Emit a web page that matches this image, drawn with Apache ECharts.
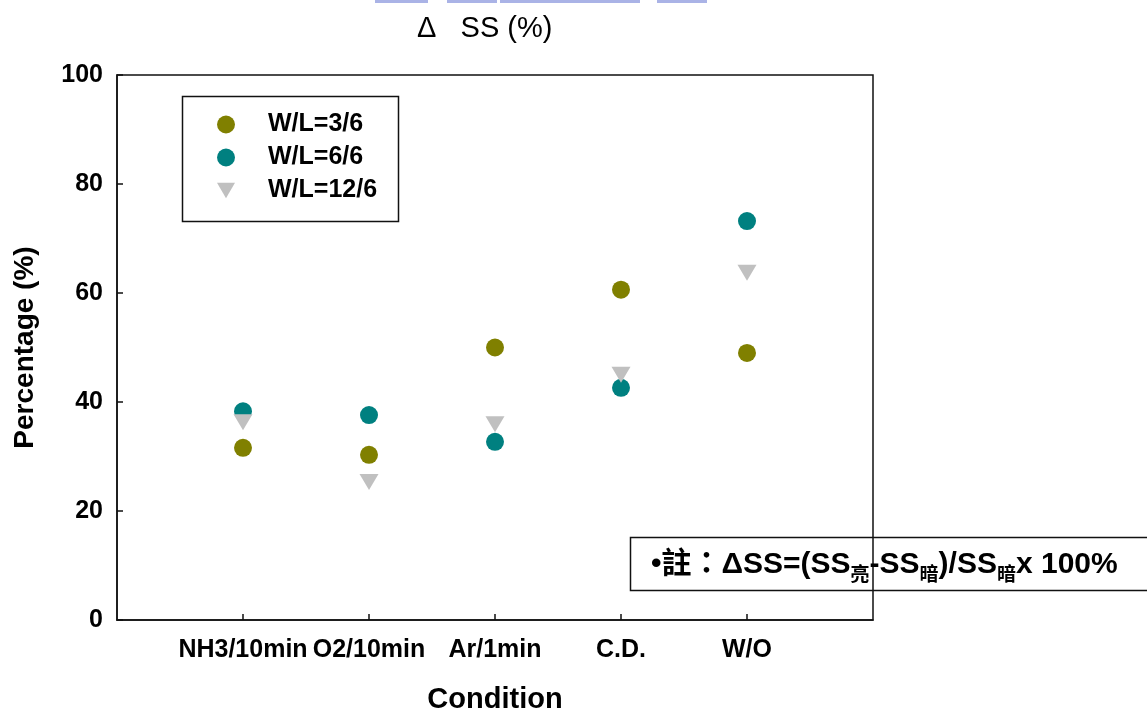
<!DOCTYPE html>
<html>
<head>
<meta charset="utf-8">
<script src="https://cdn.jsdelivr.net/npm/echarts@6/dist/echarts.min.js"></script>
<style>
  html, body { margin: 0; padding: 0; background: #fff; }
  #chart { width: 1147px; height: 713px; }
</style>
</head>
<body>
<div id="chart"></div>
<script>
// data
const conditions = ['NH3/10min', 'O2/10min', 'Ar/1min', 'C.D.', 'W/O'];
const wl36 = [31.6, 30.3, 50.0, 60.6, 49.0];
const wl66 = [38.3, 37.6, 32.7, 42.6, 73.2];
const wl126 = [36.3, 25.3, 35.9, 45.0, 63.7];
const yTicks = [0, 20, 40, 60, 80, 100];

// empty slots at both ends so the 5 conditions sit inside the frame
const xCats = [''].concat(conditions, ['']);
const pts = vals => conditions.map((c, i) => [c, vals[i]]);

const FONT = '"Liberation Sans", Arial, "Noto Sans CJK TC", sans-serif';
const isReal = (i, v) => v !== '';
const downTri = 'path://M0,0 L20,0 L10,17 Z';

const chart = echarts.init(document.getElementById('chart'));

const option = {
  backgroundColor: '#fff',
  animation: false,
  title: {
    text: 'Δ   SS (%)',
    left: 417,
    top: 14,
    padding: 0,
    textStyle: { fontFamily: FONT, fontSize: 29, fontWeight: 'normal', color: '#000' }
  },
  grid: {
    left: 117, right: 274, top: 75, bottom: 93,
    outerBoundsMode: 'none',
    containLabel: false,
    show: true, borderColor: '#111', borderWidth: 1.5
  },
  legend: {
    orient: 'vertical',
    left: 217,
    top: 112,
    padding: 0,
    itemWidth: 18,
    itemHeight: 18,
    itemGap: 8,
    textStyle: {
      fontFamily: FONT, fontSize: 25, fontWeight: 'bold', color: '#000',
      lineHeight: 25, padding: [0, 0, 0, 28]
    },
    data: [
      { name: 'W/L=3/6' },
      { name: 'W/L=6/6' },
      { name: 'W/L=12/6', icon: downTri }
    ]
  },
  xAxis: {
    type: 'category',
    data: xCats,
    boundaryGap: false,
    name: 'Condition',
    nameLocation: 'middle',
    nameGap: 65,
    nameTextStyle: { fontFamily: FONT, fontSize: 29, fontWeight: 'bold', color: '#000' },
    axisLine: { lineStyle: { color: '#111', width: 1.5 } },
    axisTick: { inside: true, length: 6, interval: isReal, lineStyle: { color: '#111', width: 1.5 } },
    axisLabel: {
      interval: isReal, margin: 18,
      fontFamily: FONT, fontSize: 25, fontWeight: 'bold', color: '#000'
    },
    splitLine: { show: false }
  },
  yAxis: {
    type: 'value',
    min: yTicks[0],
    max: yTicks[yTicks.length - 1],
    interval: 20,
    name: 'Percentage (%)',
    nameLocation: 'middle',
    nameGap: 78,
    nameTextStyle: { fontFamily: FONT, fontSize: 28, fontWeight: 'bold', color: '#000' },
    axisLine: { show: true, lineStyle: { color: '#111', width: 1.5 } },
    axisTick: { show: true, inside: true, length: 6, lineStyle: { color: '#111', width: 1.5 } },
    axisLabel: { margin: 14, fontFamily: FONT, fontSize: 25, fontWeight: 'bold', color: '#000' },
    splitLine: { show: false }
  },
  series: [
    {
      name: 'W/L=3/6', type: 'scatter', data: pts(wl36),
      symbol: 'circle', symbolSize: 18,
      itemStyle: { color: '#808000', opacity: 1 }
    },
    {
      name: 'W/L=6/6', type: 'scatter', data: pts(wl66),
      symbol: 'circle', symbolSize: 18,
      itemStyle: { color: '#008080', opacity: 1 }
    },
    {
      name: 'W/L=12/6', type: 'scatter', data: pts(wl126),
      symbol: 'triangle', symbolRotate: 180, symbolSize: [19, 16],
      itemStyle: { color: '#c0c0c0', opacity: 1 }
    }
  ],
  graphic: [
    // legend frame
    {
      type: 'rect', left: 180, top: 94, z: 10,
      shape: { width: 216, height: 125 },
      style: { fill: 'none', stroke: '#111', lineWidth: 1.5 }
    },
    // note box
    {
      type: 'rect', left: 628, top: 535, z: 10,
      shape: { width: 540, height: 53 },
      style: { fill: 'none', stroke: '#111', lineWidth: 1.5 }
    },
    {
      type: 'text', left: 651, top: 544, z: 11,
      style: {
        text: '{m|•註：ΔSS=(SS}{s|亮}{m|-SS}{s|暗}{m|)/SS}{s|暗}{m|x 100%}',
        rich: {
          m: { fontFamily: FONT, fontSize: 30, fontWeight: 'bold', color: '#000', lineHeight: 34 },
          s: { fontFamily: FONT, fontSize: 19, fontWeight: 'bold', color: '#000', lineHeight: 19, padding: [22, 0, 0, 0] }
        }
      }
    },
    // faint cut-off text remnants at the very top
    { type: 'rect', left: 375, top: 0, shape: { width: 53, height: 3 }, style: { fill: '#aab3e6' } },
    { type: 'rect', left: 447, top: 0, shape: { width: 50, height: 3 }, style: { fill: '#aab3e6' } },
    { type: 'rect', left: 500, top: 0, shape: { width: 140, height: 3 }, style: { fill: '#aab3e6' } },
    { type: 'rect', left: 657, top: 0, shape: { width: 50, height: 3 }, style: { fill: '#aab3e6' } }
  ]
};

chart.setOption(option);
</script>
</body>
</html>
